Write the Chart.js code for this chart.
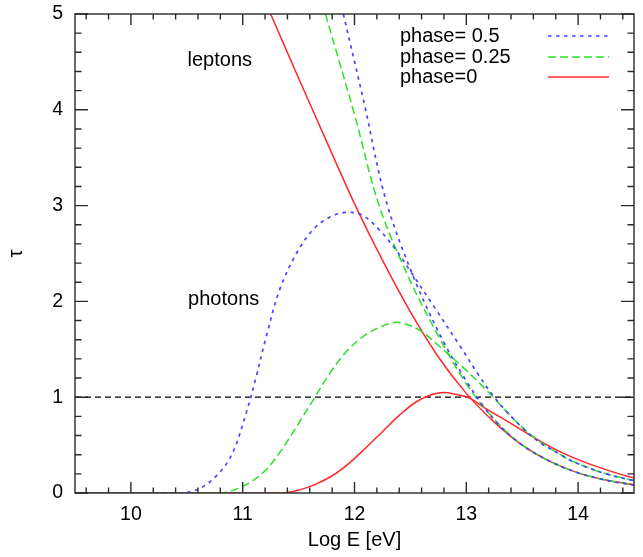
<!DOCTYPE html>
<html><head><meta charset="utf-8">
<script src="https://cdn.jsdelivr.net/npm/chart.js@4.4.0/dist/chart.umd.min.js"></script>
<style>html,body{margin:0;padding:0;background:#fff;} #wrap{width:643px;height:557px;}</style>
</head><body><div id="wrap"><canvas id="c" width="643" height="557"></canvas></div>
<script>
// ---- tick values ----
const xMajorTicks = [10, 11, 12, 13, 14];
const yMajorTicks = [0, 1, 2, 3, 4, 5];
const xMinorTicks = [9.6, 9.8, 10.2, 10.4, 10.6, 10.8, 11.2, 11.4, 11.6, 11.8, 12.2, 12.4, 12.6, 12.8, 13.2, 13.4, 13.6, 13.8, 14.2, 14.4];
const yMinorTicks = [0.2, 0.4, 0.6, 0.8, 1.2, 1.4, 1.6, 1.8, 2.2, 2.4, 2.6, 2.8, 3.2, 3.4, 3.6, 3.8, 4.2, 4.4, 4.6, 4.8];

// ---- legend labels ----
const legendLabels = ['phase= 0.5', 'phase= 0.25', 'phase=0'];
const curveLabels = ['leptons', 'photons'];

// ---- photons ----
const photon05X = [9.5, 10.44, 10.62, 10.79, 10.91, 11.03, 11.12, 11.21, 11.33, 11.48, 11.63, 11.78, 11.93, 12.07, 12.22, 12.37, 12.48, 12.72, 12.94, 13.1, 13.25, 13.45, 13.63, 13.83, 13.95, 14.25, 14.5];
const photon05Y = [0, 0, 0.05, 0.21, 0.42, 0.83, 1.21, 1.63, 2.12, 2.5, 2.75, 2.88, 2.93, 2.9, 2.75, 2.54, 2.35, 1.93, 1.54, 1.25, 1.0, 0.74, 0.55, 0.41, 0.33, 0.2, 0.128];

const photon025X = [9.5, 10.8, 11.0, 11.18, 11.33, 11.48, 11.63, 11.78, 11.93, 12.11, 12.29, 12.4, 12.58, 12.79, 13.0, 13.2, 13.45, 13.63, 13.83, 13.95, 14.25, 14.5];
const photon025Y = [0, 0, 0.07, 0.21, 0.42, 0.69, 0.97, 1.25, 1.48, 1.66, 1.76, 1.78, 1.7, 1.5, 1.28, 1.05, 0.74, 0.56, 0.41, 0.33, 0.2, 0.13];

const photon0X = [9.5, 11.35, 11.5, 11.65, 11.8, 11.95, 12.1, 12.25, 12.4, 12.55, 12.7, 12.8, 12.9, 13.03, 13.15, 13.35, 13.74, 14.04, 14.34, 14.5];
const photon0Y = [0, 0, 0.03, 0.09, 0.18, 0.31, 0.47, 0.64, 0.81, 0.95, 1.03, 1.05, 1.03, 0.99, 0.9, 0.76, 0.49, 0.33, 0.21, 0.157];

// ---- leptons ----
const lepton05X = [11.9, 12.09, 12.28, 12.54, 12.8, 13.0, 13.15, 13.3, 13.5, 13.75, 14.0, 14.25, 14.5];
const lepton05Y = [5.0, 4.05, 3.06, 2.22, 1.57, 1.17, 0.91, 0.7, 0.5, 0.33, 0.21, 0.133, 0.082];

const lepton025X = [11.74, 12.0, 12.22, 12.48, 12.75, 13.0, 13.25, 13.5, 13.75, 14.0, 14.25, 14.5];
const lepton025Y = [5.0, 3.95, 3.0, 2.26, 1.64, 1.14, 0.77, 0.5, 0.33, 0.21, 0.135, 0.084];

const lepton0X = [11.25, 11.5, 11.75, 12.0, 12.25, 12.5, 12.75, 13.0, 13.25, 13.5, 13.75, 14.0, 14.25, 14.5];
const lepton0Y = [5.0, 4.33, 3.67, 3.02, 2.43, 1.89, 1.42, 1.04, 0.74, 0.5, 0.33, 0.21, 0.135, 0.085];

// ---- threshold line ----
const thresholdX = [9.5, 14.5];
const thresholdY = [1, 1];

const pts = (xs, ys) => xs.map((x, i) => ({x: x, y: ys[i]}));

const BLUE = 'rgb(70,70,255)';
const GREEN = 'rgb(40,225,40)';
const RED = 'rgb(255,40,40)';
const blueStyle = {borderColor: BLUE, borderDash: [3.5, 4.5], borderWidth: 1.7};
const greenStyle = {borderColor: GREEN, borderDash: [8, 4], borderWidth: 1.5};
const redStyle = {borderColor: RED, borderDash: [], borderWidth: 1.5};

const common = {pointRadius: 0, fill: false, tension: 0.35, showLine: true};

const datasets = [
  Object.assign({label: legendLabels[0], data: pts(photon05X, photon05Y), legendIdx: 0}, common, blueStyle),
  Object.assign({label: legendLabels[1], data: pts(photon025X, photon025Y)}, common, greenStyle),
  Object.assign({label: legendLabels[0], data: pts(lepton05X, lepton05Y)}, common, blueStyle),
  Object.assign({label: legendLabels[1], data: pts(lepton025X, lepton025Y), legendIdx: 1}, common, greenStyle),
  Object.assign({label: legendLabels[2], data: pts(photon0X, photon0Y)}, common, redStyle),
  Object.assign({label: legendLabels[2], data: pts(lepton0X, lepton0Y), legendIdx: 2}, common, redStyle),
  Object.assign({label: 'tau=1', data: pts(thresholdX, thresholdY)}, common,
    {borderColor: '#000', borderDash: [6, 4], borderWidth: 1.2, tension: 0})
];

const FONT = "'Liberation Sans', Arial, sans-serif";
Chart.defaults.font.family = FONT;
Chart.defaults.font.size = 19;
Chart.defaults.color = '#000';

const gnuplotDecor = {
  id: 'gnuplotDecor',
  afterDatasetsDraw(chart, args, opts) {
    const ctx = chart.ctx;
    const a = chart.chartArea;
    const xs = chart.scales.x, ys = chart.scales.y;
    ctx.save();
    ctx.strokeStyle = '#2a2a2a';
    ctx.lineWidth = 1.4;
    ctx.setLineDash([]);
    ctx.beginPath();
    const tick = (vals, len, isX) => {
      vals.forEach(v => {
        if (isX) {
          const p = xs.getPixelForValue(v);
          ctx.moveTo(p, a.bottom); ctx.lineTo(p, a.bottom - len);
          ctx.moveTo(p, a.top); ctx.lineTo(p, a.top + len);
        } else {
          const p = ys.getPixelForValue(v);
          ctx.moveTo(a.left, p); ctx.lineTo(a.left + len, p);
          ctx.moveTo(a.right, p); ctx.lineTo(a.right - len, p);
        }
      });
    };
    tick(xMajorTicks, 11, true);
    tick(xMinorTicks, 5.5, true);
    tick(yMajorTicks, 13, false);
    tick(yMinorTicks, 6.5, false);
    ctx.stroke();
    ctx.strokeRect(a.left, a.top, a.right - a.left, a.bottom - a.top);

    // curve family labels
    ctx.fillStyle = '#000';
    ctx.font = '20px ' + FONT;
    ctx.textAlign = 'center';
    ctx.textBaseline = 'middle';
    opts.labels.forEach(l => {
      ctx.fillText(l.text, xs.getPixelForValue(l.x), ys.getPixelForValue(l.y));
    });

    // legend (gnuplot style: text left, sample right)
    ctx.textAlign = 'left';
    const L = opts.legend;
    chart.data.datasets.forEach(ds => {
      if (ds.legendIdx === undefined) return;
      const y = a.top + L.rowY[ds.legendIdx];
      ctx.fillStyle = '#000';
      ctx.fillText(ds.label, a.left + L.textX, y);
      ctx.save();
      ctx.strokeStyle = ds.borderColor;
      ctx.lineWidth = ds.borderWidth;
      ctx.setLineDash(ds.borderDash || []);
      ctx.beginPath();
      ctx.moveTo(a.right - L.sampleFromRight, y);
      ctx.lineTo(a.right - L.sampleToRight, y);
      ctx.stroke();
      ctx.restore();
    });
    ctx.restore();
  }
};

const noPad = s => { s.paddingTop = 0; s.paddingBottom = 0; s.paddingLeft = 0; s.paddingRight = 0; };

new Chart(document.getElementById('c'), {
  type: 'scatter',
  data: {datasets: datasets},
  options: {
    responsive: false,
    animation: false,
    devicePixelRatio: 1,
    layout: {padding: {top: 14, right: 9, left: 0, bottom: 0}},
    plugins: {
      legend: {display: false},
      tooltip: {enabled: false},
      gnuplotDecor: {
        labels: [
          {text: curveLabels[0], x: 10.795, y: 4.51},
          {text: curveLabels[1], x: 10.83, y: 2.015}
        ],
        legend: {textX: 325, rowY: [22, 43, 63], sampleFromRight: 86, sampleToRight: 25}
      }
    },
    scales: {
      x: {
        type: 'linear', min: 9.5, max: 14.5,
        afterBuildTicks: s => { s.ticks = xMajorTicks.map(v => ({value: v})); },
        afterFit: s => { s.height = 64; noPad(s); },
        grid: {display: false, drawTicks: false},
        border: {display: false},
        ticks: {padding: 10, color: '#000', font: {size: 19.5}},
        title: {display: true, text: 'Log E [eV]', color: '#000', font: {size: 20}, padding: {top: 0, bottom: 5}}
      },
      y: {
        type: 'linear', min: 0, max: 5,
        afterBuildTicks: s => { s.ticks = yMajorTicks.map(v => ({value: v})); },
        afterFit: s => { s.width = 75; noPad(s); },
        grid: {display: false, drawTicks: false},
        border: {display: false},
        ticks: {padding: 12, color: '#000', font: {size: 19.5}},
        title: {display: true, text: 'τ', color: '#000', font: {size: 20}, padding: {top: 4, bottom: 0}}
      }
    }
  },
  plugins: [gnuplotDecor]
});
</script>
</body></html>
